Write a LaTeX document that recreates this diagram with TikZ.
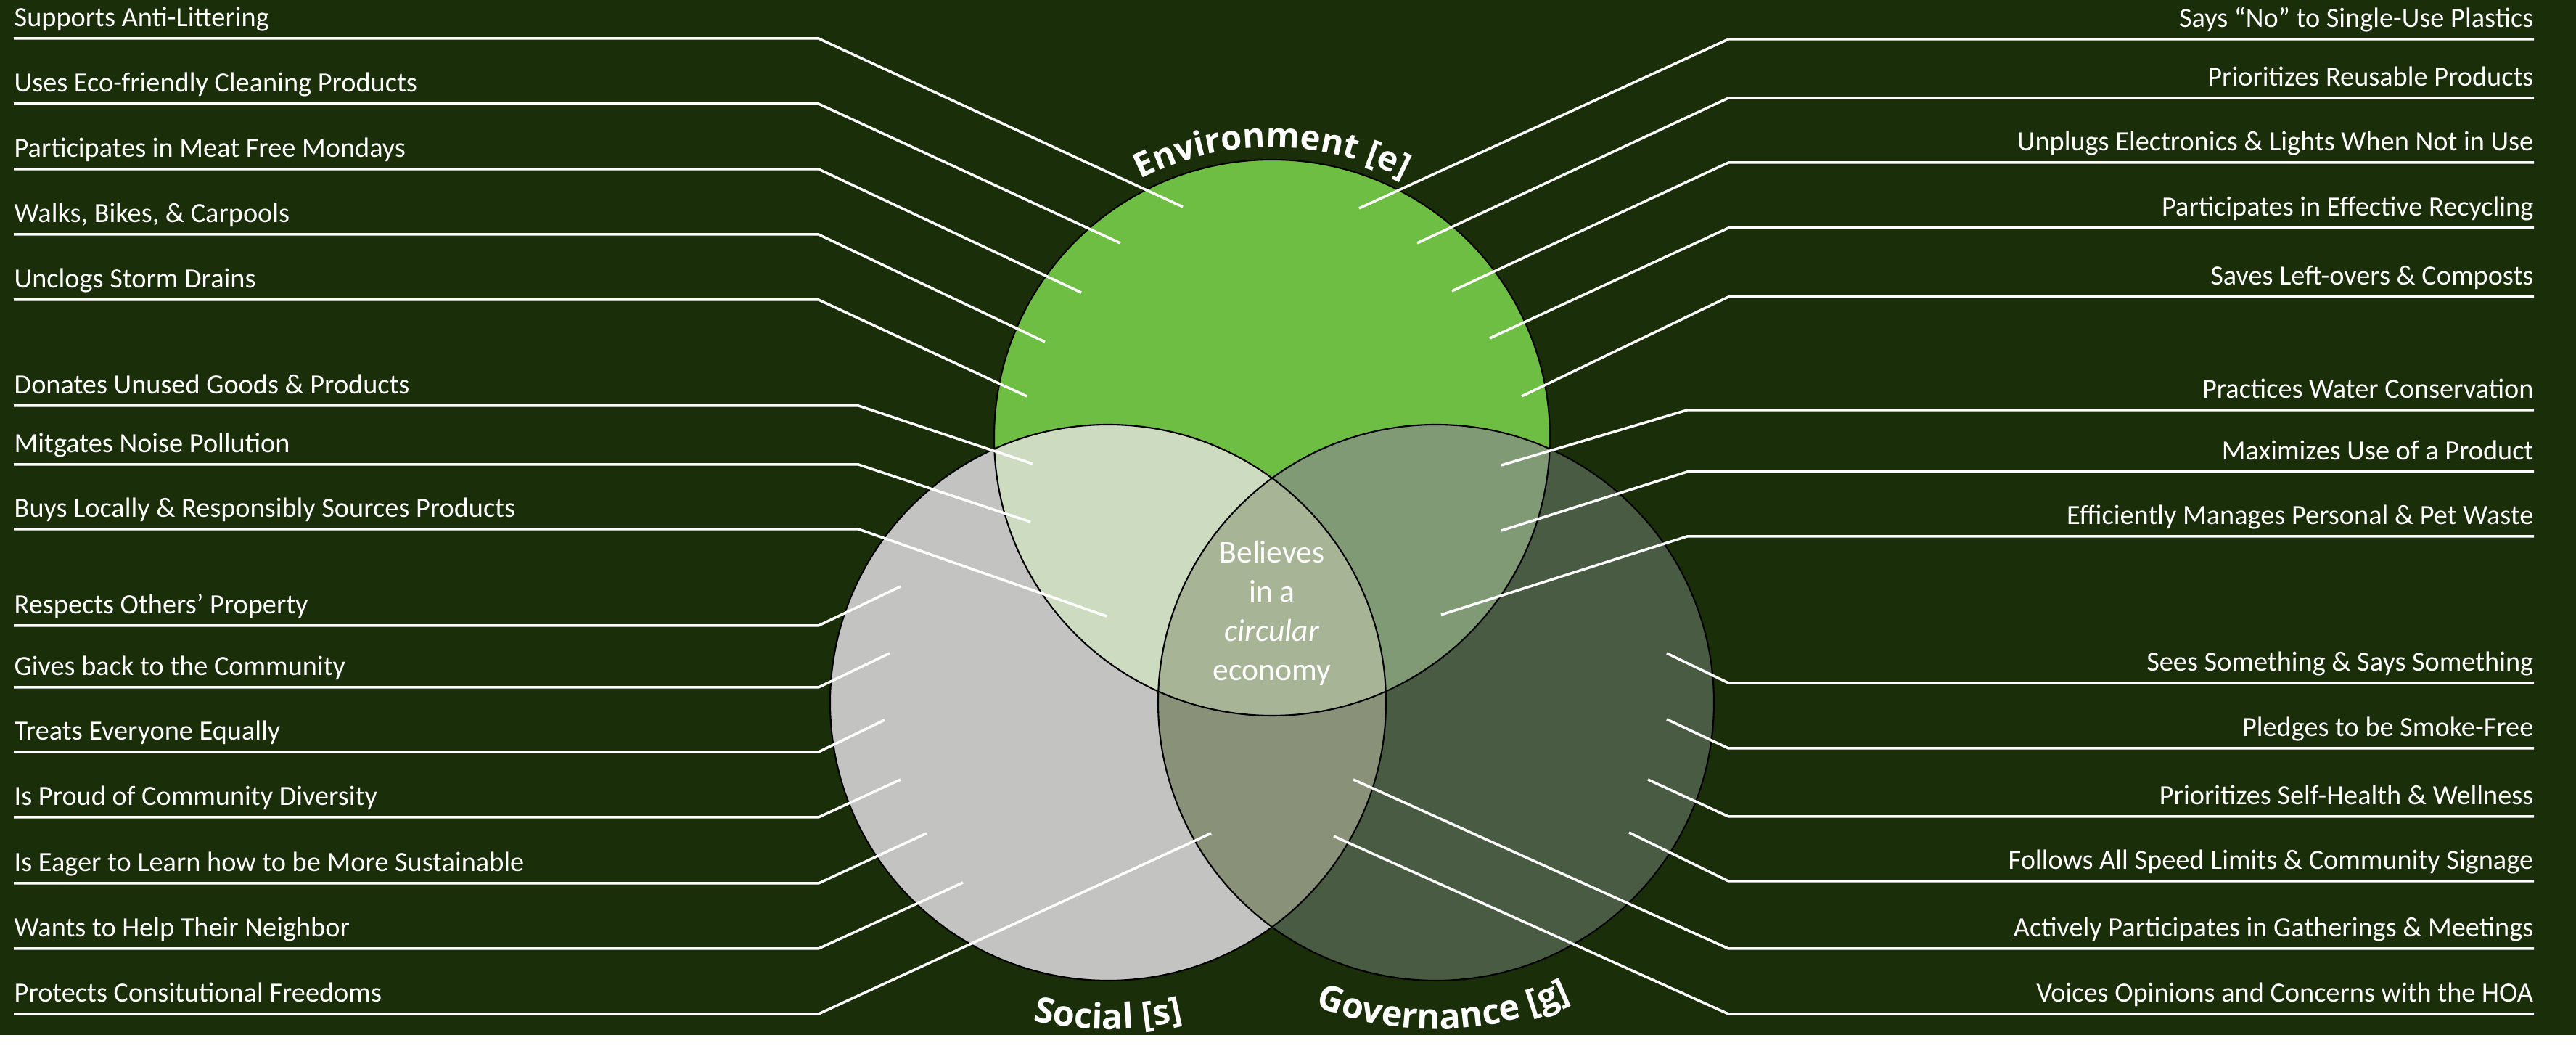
\documentclass[tikz,border=0pt]{standalone}
\usepackage{fontspec}
\setmainfont{Carlito}
\newfontfamily\arcfont{Open Sans}
\usetikzlibrary{positioning,decorations.text}

\definecolor{bg}{RGB}{26,46,10}
\definecolor{envC}{RGB}{111,190,68}
\definecolor{socC}{RGB}{195,195,194}
\definecolor{govC}{RGB}{73,92,67}
\definecolor{esC}{RGB}{205,219,192}
\definecolor{egC}{RGB}{128,154,118}
\definecolor{sgC}{RGB}{137,146,121}
\definecolor{allC}{RGB}{168,180,150}

\begin{document}
\begin{tikzpicture}[
  fact/.style={text=white, inner sep=0pt, text depth=0pt, font=\fontsize{10.9}{12}\selectfont},
  leader/.style={white, line width=1pt},
  ring/.style={black, line width=0.6pt}]
  % Background
  \fill[bg] (0,0) rectangle (35.5,14.26);
  \coordinate (E) at (17.53,8.23);
  \coordinate (S) at (15.27,4.58);
  \coordinate (G) at (19.79,4.58);
  % Three circles
  \fill[envC] (E) circle (3.83);
  \fill[socC] (S) circle (3.83);
  \fill[govC] (G) circle (3.83);
  % Pairwise overlaps
  \begin{scope}
    \clip (E) circle (3.83);
    \fill[esC] (S) circle (3.83);
    \fill[egC] (G) circle (3.83);
  \end{scope}
  \begin{scope}
    \clip (S) circle (3.83);
    \fill[sgC] (G) circle (3.83);
    \clip (E) circle (3.83);
    \fill[allC] (G) circle (3.83);
  \end{scope}
  % Outlines
  \draw[ring] (E) circle (3.83);
  \draw[ring] (S) circle (3.83);
  \draw[ring] (G) circle (3.83);
  % Middle
  \node[text=white, align=center, font=\fontsize{12.4}{15.4}\selectfont] (core) at (17.53,5.81)
    {Believes\\in a\\\textit{circular}\\economy};
  % Circle titles
  \path[decorate, decoration={text along path, text align=center, text color=white,
    text={|\arcfont\bfseries\fontsize{13.4}{15}\selectfont|Environment [e]}}]
    (E) ++(125:4.0) arc[start angle=125, end angle=55, radius=4.0];
  \path[decorate, decoration={text along path, text align=center, text color=white,
    text={|\arcfont\bfseries\fontsize{13.8}{15}\selectfont|Social [s]}}]
    (S) ++(235:4.5) arc[start angle=235, end angle=305, radius=4.5];
  \path[decorate, decoration={text along path, text align=center, text color=white,
    text={|\arcfont\bfseries\fontsize{13.8}{15}\selectfont|Governance [g]}}]
    (G) ++(236.4:4.5) arc[start angle=236.4, end angle=306.4, radius=4.5];
  % Bend columns
  \coordinate (kL) at (11.28,0);
  \coordinate (kL2) at (11.83,0);
  \coordinate (kR) at (23.82,0);
  \coordinate (kR2) at (23.25,0);
  % Left side
  \coordinate (l1) at (0.19,13.73); \coordinate (le1) at (16.30,11.41);
  \node[fact, above right=0.16 and 0 of l1] (tl1) {Supports Anti-Littering};
  \draw[leader] (l1) -- (l1 -| kL) -- (le1);
  \coordinate (l2) at (0.19,12.83); \coordinate (le2) at (15.44,10.91);
  \node[fact, above right=0.16 and 0 of l2] (tl2) {Uses Eco-friendly Cleaning Products};
  \draw[leader] (l2) -- (l2 -| kL) -- (le2);
  \coordinate (l3) at (0.19,11.93); \coordinate (le3) at (14.90,10.23);
  \node[fact, above right=0.16 and 0 of l3] (tl3) {Participates in Meat Free Mondays};
  \draw[leader] (l3) -- (l3 -| kL) -- (le3);
  \coordinate (l4) at (0.19,11.03); \coordinate (le4) at (14.40,9.55);
  \node[fact, above right=0.16 and 0 of l4] (tl4) {Walks, Bikes, \& Carpools};
  \draw[leader] (l4) -- (l4 -| kL) -- (le4);
  \coordinate (l5) at (0.19,10.13); \coordinate (le5) at (14.15,8.80);
  \node[fact, above right=0.16 and 0 of l5] (tl5) {Unclogs Storm Drains};
  \draw[leader] (l5) -- (l5 -| kL) -- (le5);
  \coordinate (l6) at (0.19,8.67); \coordinate (le6) at (14.23,7.87);
  \node[fact, above right=0.16 and 0 of l6] (tl6) {Donates Unused Goods \& Products};
  \draw[leader] (l6) -- (l6 -| kL2) -- (le6);
  \coordinate (l7) at (0.19,7.86); \coordinate (le7) at (14.20,7.07);
  \node[fact, above right=0.16 and 0 of l7] (tl7) {Mitgates Noise Pollution};
  \draw[leader] (l7) -- (l7 -| kL2) -- (le7);
  \coordinate (l8) at (0.19,6.97); \coordinate (le8) at (15.25,5.77);
  \node[fact, above right=0.16 and 0 of l8] (tl8) {Buys Locally \& Responsibly Sources Products};
  \draw[leader] (l8) -- (l8 -| kL2) -- (le8);
  \coordinate (l9) at (0.19,5.64); \coordinate (le9) at (12.41,6.18);
  \node[fact, above right=0.16 and 0 of l9] (tl9) {Respects Others’ Property};
  \draw[leader] (l9) -- (l9 -| kL) -- (le9);
  \coordinate (l10) at (0.19,4.79); \coordinate (le10) at (12.26,5.26);
  \node[fact, above right=0.16 and 0 of l10] (tl10) {Gives back to the Community};
  \draw[leader] (l10) -- (l10 -| kL) -- (le10);
  \coordinate (l11) at (0.19,3.90); \coordinate (le11) at (12.19,4.34);
  \node[fact, above right=0.16 and 0 of l11] (tl11) {Treats Everyone Equally};
  \draw[leader] (l11) -- (l11 -| kL) -- (le11);
  \coordinate (l12) at (0.19,3.00); \coordinate (le12) at (12.41,3.52);
  \node[fact, above right=0.16 and 0 of l12] (tl12) {Is Proud of Community Diversity};
  \draw[leader] (l12) -- (l12 -| kL) -- (le12);
  \coordinate (l13) at (0.19,2.09); \coordinate (le13) at (12.77,2.78);
  \node[fact, above right=0.16 and 0 of l13] (tl13) {Is Eager to Learn how to be More Sustainable};
  \draw[leader] (l13) -- (l13 -| kL) -- (le13);
  \coordinate (l14) at (0.19,1.19); \coordinate (le14) at (13.27,2.10);
  \node[fact, above right=0.16 and 0 of l14] (tl14) {Wants to Help Their Neighbor};
  \draw[leader] (l14) -- (l14 -| kL) -- (le14);
  \coordinate (l15) at (0.19,0.29); \coordinate (le15) at (16.69,2.78);
  \node[fact, above right=0.16 and 0 of l15] (tl15) {Protects Consitutional Freedoms};
  \draw[leader] (l15) -- (l15 -| kL) -- (le15);
  % Right side
  \coordinate (r1) at (34.92,13.72); \coordinate (re1) at (18.73,11.39);
  \node[fact, above left=0.16 and 0 of r1] (tr1) {Says “No” to Single-Use Plastics};
  \draw[leader] (r1) -- (r1 -| kR) -- (re1);
  \coordinate (r2) at (34.92,12.91); \coordinate (re2) at (19.53,10.91);
  \node[fact, above left=0.16 and 0 of r2] (tr2) {Prioritizes Reusable Products};
  \draw[leader] (r2) -- (r2 -| kR) -- (re2);
  \coordinate (r3) at (34.92,12.02); \coordinate (re3) at (20.01,10.25);
  \node[fact, above left=0.16 and 0 of r3] (tr3) {Unplugs Electronics \& Lights When Not in Use};
  \draw[leader] (r3) -- (r3 -| kR) -- (re3);
  \coordinate (r4) at (34.92,11.12); \coordinate (re4) at (20.53,9.60);
  \node[fact, above left=0.16 and 0 of r4] (tr4) {Participates in Effective Recycling};
  \draw[leader] (r4) -- (r4 -| kR) -- (re4);
  \coordinate (r5) at (34.92,10.17); \coordinate (re5) at (20.97,8.80);
  \node[fact, above left=0.16 and 0 of r5] (tr5) {Saves Left-overs \& Composts};
  \draw[leader] (r5) -- (r5 -| kR) -- (re5);
  \coordinate (r6) at (34.92,8.61); \coordinate (re6) at (20.69,7.85);
  \node[fact, above left=0.16 and 0 of r6] (tr6) {Practices Water Conservation};
  \draw[leader] (r6) -- (r6 -| kR2) -- (re6);
  \coordinate (r7) at (34.92,7.76); \coordinate (re7) at (20.69,6.95);
  \node[fact, above left=0.16 and 0 of r7] (tr7) {Maximizes Use of a Product};
  \draw[leader] (r7) -- (r7 -| kR2) -- (re7);
  \coordinate (r8) at (34.92,6.87); \coordinate (re8) at (19.86,5.79);
  \node[fact, above left=0.16 and 0 of r8] (tr8) {Efficiently Manages Personal \& Pet Waste};
  \draw[leader] (r8) -- (r8 -| kR2) -- (re8);
  \coordinate (r9) at (34.92,4.85); \coordinate (re9) at (22.97,5.26);
  \node[fact, above left=0.16 and 0 of r9] (tr9) {Sees Something \& Says Something};
  \draw[leader] (r9) -- (r9 -| kR) -- (re9);
  \coordinate (r10) at (34.92,3.95); \coordinate (re10) at (22.97,4.35);
  \node[fact, above left=0.16 and 0 of r10] (tr10) {Pledges to be Smoke-Free};
  \draw[leader] (r10) -- (r10 -| kR) -- (re10);
  \coordinate (r11) at (34.92,3.01); \coordinate (re11) at (22.71,3.52);
  \node[fact, above left=0.16 and 0 of r11] (tr11) {Prioritizes Self-Health \& Wellness};
  \draw[leader] (r11) -- (r11 -| kR) -- (re11);
  \coordinate (r12) at (34.92,2.12); \coordinate (re12) at (22.45,2.79);
  \node[fact, above left=0.16 and 0 of r12] (tr12) {Follows All Speed Limits \& Community Signage};
  \draw[leader] (r12) -- (r12 -| kR) -- (re12);
  \coordinate (r13) at (34.92,1.19); \coordinate (re13) at (18.65,3.52);
  \node[fact, above left=0.16 and 0 of r13] (tr13) {Actively Participates in Gatherings \& Meetings};
  \draw[leader] (r13) -- (r13 -| kR) -- (re13);
  \coordinate (r14) at (34.92,0.29); \coordinate (re14) at (18.38,2.74);
  \node[fact, above left=0.16 and 0 of r14] (tr14) {Voices Opinions and Concerns with the HOA};
  \draw[leader] (r14) -- (r14 -| kR) -- (re14);
\end{tikzpicture}
\end{document}
